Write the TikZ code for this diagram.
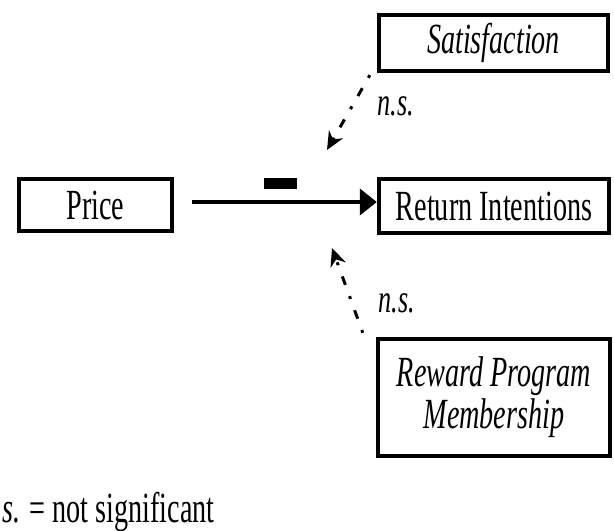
\documentclass[tikz,border=0pt]{standalone}
\usepackage{fontspec}
\setmainfont{Liberation Serif}[FakeStretch=0.655]
\usetikzlibrary{arrows.meta}

\tikzset{
    box/.style={draw, line width=2.2pt, inner sep=0pt, align=center,
        font=\fontsize{21.5}{21}\selectfont},
    ibox/.style={box, font=\fontsize{21.5}{21}\selectfont\itshape},
    nslabel/.style={font=\fontsize{20}{20}\selectfont\itshape, inner sep=0pt},
    effect/.style={line width=2pt, -{Triangle[length=8.5pt,width=13pt]}},
    nseffect/.style={line width=1.5pt, dash pattern=on 1.5pt off 6pt on 4.5pt off 6pt,
        -{Stealth[length=9pt,width=8pt]}}
}

\begin{document}
\begin{tikzpicture}[x=0.5pt, y=-0.5pt]
    \useasboundingbox (0,0) rectangle (614,530);

    % Constructs
    \node[box, minimum width=76.5pt, minimum height=26pt] (price) at (95.5,205) {Price};
    \node[box, minimum width=115pt, minimum height=27pt] (ret) at (494,206) {Return Intentions};
    \node[ibox, minimum width=114.5pt, minimum height=28pt] (sat) at (493.5,43) {Satisfaction};
    \node[ibox, minimum width=116pt, minimum height=58.5pt] (reward) at (494,397.5)
        {Reward Program\\Membership};

    % Significant negative effect
    \draw[effect] (price.east) ++(18,-3) coordinate (pstart) -- (ret.west |- pstart);
    \node[fill, inner sep=0pt, minimum width=16.5pt, minimum height=5.5pt] (minus) at (280.5,183.5) {};

    % Non-significant moderators
    \coordinate (satend) at (327,150);
    \draw[nseffect] (sat.south west) ++(-7,2) coordinate (satstart) -- (satend);
    \node[nslabel, anchor=west] (ns1) at (377,106) {n.s.};

    \coordinate (rewend) at (332,248);
    \draw[nseffect] (reward.north west) ++(-13,-4) coordinate (rewstart) -- (rewend);
    \node[nslabel, anchor=west] (ns2) at (378,303) {n.s.};

    % Note
    \node[anchor=base west, inner sep=0pt, font=\fontsize{21.5}{21}\selectfont] (note) at (2,522)
        {\textit{s.} = not significant};
\end{tikzpicture}
\end{document}
